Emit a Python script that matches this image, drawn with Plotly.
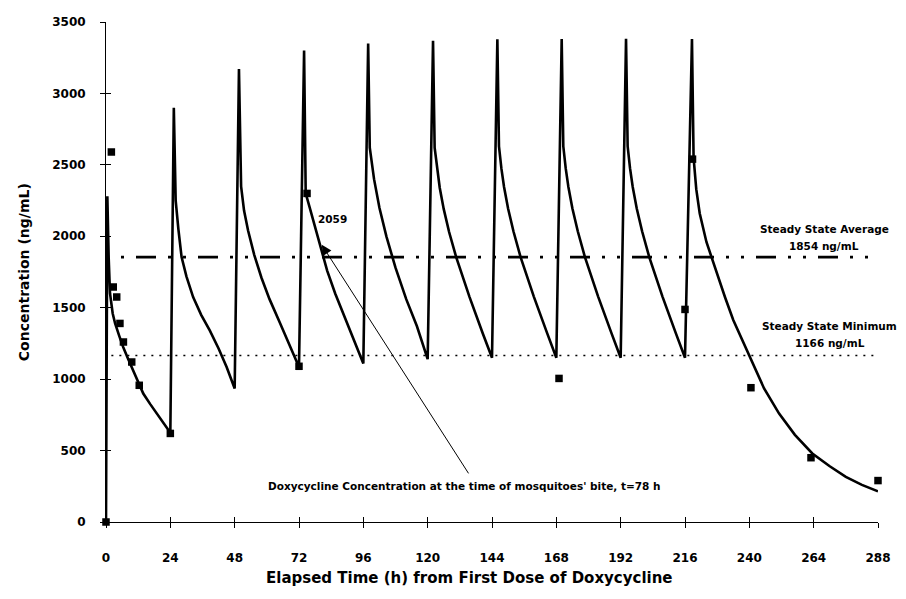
import plotly.graph_objects as go

# Model curve
curve_t = [0, 0.5, 1.0, 1.5, 2.5, 3.4, 5.0, 6.4, 8.3, 10.2, 13.9, 16.5, 18.9, 21.5, 24,
           25.3, 26.0, 27.0, 28.2, 30, 32.5, 35.5, 38.7, 42, 45, 48,
           49.6, 50.4, 51.5, 53, 55.3, 58, 61, 64.5, 68, 72,
           73.9, 74.5, 76, 78, 80, 82.5, 85.5, 89, 92.5, 96,
           97.8, 98.4, 100, 102, 104.6, 108, 112, 116, 120,
           122, 122.6, 123.5, 124.5, 126, 128, 130.7, 135.6, 140.6, 144,
           146, 146.6, 147.5, 148.5, 150, 152, 154.7, 159.6, 164.6, 168,
           170, 170.6, 171.5, 172.5, 174, 176, 178.7, 183.6, 188.6, 192,
           194, 194.6, 195.5, 196.5, 198, 200, 202.7, 207.6, 212.6, 216,
           218.6, 219.2, 220.2, 221.5, 224, 227.5, 231, 234, 237.5, 240.6, 245.5, 251.1,
           257, 263.5, 270, 276, 282, 288]
curve_c = [0, 2280, 1850, 1600, 1460, 1390, 1300, 1225, 1140, 1062, 899, 825, 759, 690, 625,
           2900, 2250, 2050, 1854, 1720, 1574, 1450, 1341, 1215, 1085, 935,
           3170, 2350, 2180, 2040, 1870, 1710, 1560, 1410, 1260, 1085,
           3300, 2300, 2200, 2060, 1920, 1760, 1600, 1440, 1280, 1110,
           3350, 2620, 2400, 2200, 2000, 1780, 1560, 1370, 1140,
           3368, 2620, 2470, 2340, 2190, 2030, 1850, 1576, 1318, 1150,
           3379, 2630, 2475, 2345, 2195, 2035, 1852, 1578, 1320, 1150,
           3380, 2630, 2475, 2345, 2195, 2035, 1852, 1578, 1320, 1150,
           3382, 2630, 2475, 2345, 2195, 2035, 1852, 1578, 1320, 1150,
           3380, 2550, 2330, 2160, 1960, 1760, 1570, 1414, 1265, 1132, 935, 759,
           610, 480, 390, 316, 260, 215]

# Observed concentrations
obs_t = [0, 2, 2.7, 4, 5.2, 6.5, 9.6, 12.4, 24, 72, 75, 169, 216, 218.8, 240.6, 263, 288]
obs_c = [0, 2590, 1645, 1575, 1390, 1260, 1120, 957, 620, 1090, 2300, 1005, 1488, 2540, 940, 450, 290]

# Reference lines
ss_avg_t = [0, 286]
ss_avg_c = [1854, 1854]
ss_min_t = [2, 288]
ss_min_c = [1166, 1166]

x_ticks = [0, 24, 48, 72, 96, 120, 144, 168, 192, 216, 240, 264, 288]
y_ticks = [0, 500, 1000, 1500, 2000, 2500, 3000, 3500]

FONT = "DejaVu Sans"

fig = go.Figure()
fig.add_trace(go.Scatter(x=ss_avg_t, y=ss_avg_c, mode="lines",
                         line=dict(color="black", width=2.8, dash="3px,12px,3px,12px,20px,12px"),
                         hoverinfo="skip", showlegend=False))
fig.add_trace(go.Scatter(x=ss_min_t, y=ss_min_c, mode="lines",
                         line=dict(color="black", width=1.6, dash="2px,6px"),
                         hoverinfo="skip", showlegend=False))
fig.add_trace(go.Scatter(x=curve_t, y=curve_c, mode="lines",
                         line=dict(color="black", width=2.6),
                         showlegend=False))
fig.add_trace(go.Scatter(x=obs_t, y=obs_c, mode="markers",
                         marker=dict(symbol="square", size=7.5, color="black"),
                         showlegend=False, cliponaxis=False))

# overlay axes for crossing tick marks (inside part)
fig.add_trace(go.Scatter(x=[None], y=[None], xaxis="x2", yaxis="y2", showlegend=False))

fig.update_layout(
    width=890, height=583,
    margin=dict(l=98, r=13, t=7, b=69),
    plot_bgcolor="white", paper_bgcolor="white",
    font=dict(family=FONT, color="black"),
    xaxis=dict(range=[0, 288], tickvals=x_ticks, ticks="outside", ticklen=5, tickwidth=1,
               tickcolor="black", showline=True, linecolor="black", linewidth=1,
               showgrid=False, zeroline=False, ticklabelstandoff=20,
               tickfont=dict(size=12, weight="bold", family=FONT)),
    yaxis=dict(range=[0, 3500], tickvals=y_ticks, ticks="outside", ticklen=5, tickwidth=1,
               tickcolor="black", showline=True, linecolor="black", linewidth=1,
               showgrid=False, zeroline=False, ticklabelstandoff=12,
               tickfont=dict(size=12, weight="bold", family=FONT)),
    xaxis2=dict(range=[0, 288], tickvals=x_ticks, ticks="inside", ticklen=5, tickwidth=1,
                tickcolor="black", showticklabels=False, showgrid=False, zeroline=False,
                overlaying="x", anchor="y2"),
    yaxis2=dict(range=[0, 3500], tickvals=y_ticks, ticks="inside", ticklen=5, tickwidth=1,
                tickcolor="black", showticklabels=False, showgrid=False, zeroline=False,
                overlaying="y", anchor="x2"),
)

ann_font = dict(family=FONT, size=10.5, weight="bold", color="black")
fig.add_annotation(x=268, y=2054, xref="x", yref="y", text="Steady State Average",
                   showarrow=False, font=ann_font)
fig.add_annotation(x=268, y=1929, xref="x", yref="y", text="1854 ng/mL",
                   showarrow=False, font=ann_font)
fig.add_annotation(x=270, y=1370, xref="x", yref="y", text="Steady State Minimum",
                   showarrow=False, font=ann_font)
fig.add_annotation(x=270, y=1251, xref="x", yref="y", text="1166 ng/mL",
                   showarrow=False, font=ann_font)
fig.add_annotation(x=84.6, y=2124, xref="x", yref="y", text="2059",
                   showarrow=False, font=ann_font)
fig.add_annotation(x=133.4, y=252, xref="x", yref="y",
                   text="Doxycycline Concentration at the time of mosquitoes' bite, t=78 h",
                   showarrow=False, font=ann_font)
fig.add_annotation(x=80.5, y=1940, xref="x", yref="y", ax=135.6, ay=330, axref="x", ayref="y",
                   text="", showarrow=True, arrowhead=2, arrowsize=2, arrowwidth=1,
                   arrowcolor="black")
fig.add_annotation(x=-0.106, y=0.5, xref="paper", yref="paper", xanchor="center",
                   yanchor="middle", text="Concentration (ng/mL)",
                   textangle=-90, showarrow=False,
                   font=dict(family=FONT, size=14, weight="bold"))
fig.add_annotation(x=0.471, y=-0.112, xref="paper", yref="paper", yanchor="middle",
                   text="Elapsed Time (h) from First Dose of Doxycycline",
                   showarrow=False, font=dict(family=FONT, size=15, weight="bold"))

fig.write_html("out.html")
